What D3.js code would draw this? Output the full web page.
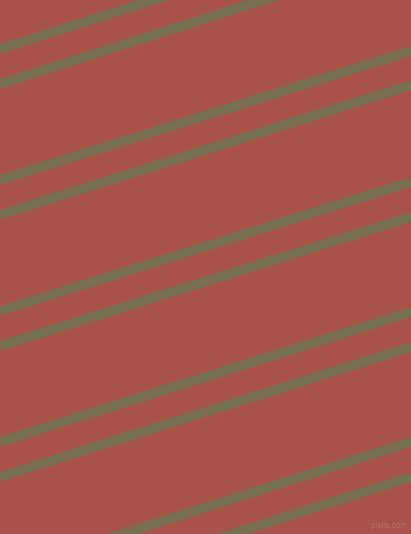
<!DOCTYPE html>
<html>
<head>
<meta charset="utf-8">
<script src="https://cdn.jsdelivr.net/npm/d3@7"></script>
<style>
  html, body { margin: 0; padding: 0; background: #a8524a; }
  svg { display: block; }
</style>
</head>
<body>
<svg width="411" height="534"></svg>
<script>
// y where each stripe's centre meets the left and right edge
const leftY = [49, 84, 180, 215, 311, 346, 442, 477, 573, 608];
const rightY = [-82, -47, 51, 85, 182, 217, 312, 347, 442, 477];
const edges = ['left', 'right'];

const svg = d3.select('svg');
const width = +svg.attr('width');
const height = +svg.attr('height');

const x = d3.scalePoint()
    .domain(edges)
    .range([0, width]);
const y = d3.scaleLinear()
    .domain([0, height])
    .range([0, height]);

svg.append('rect')
    .attr('width', width)
    .attr('height', height)
    .attr('fill', '#a8524a');

const line = d3.line()
    .x(d => x(d.edge))
    .y(d => y(d.y));

const stripes = leftY.map((v, i) => [
    { edge: 'left', y: v },
    { edge: 'right', y: rightY[i] }
]);

svg.append('g')
    .selectAll('path')
    .data(stripes)
    .join('path')
    .attr('d', line)
    .attr('fill', 'none')
    .attr('stroke', '#787052')
    .attr('stroke-width', 9.5);

svg.append('text')
    .attr('x', width - 4)
    .attr('y', height - 6)
    .attr('text-anchor', 'end')
    .attr('font-family', 'DejaVu Sans Condensed, DejaVu Sans, sans-serif')
    .attr('font-size', 9)
    .attr('textLength', 36)
    .attr('lengthAdjust', 'spacingAndGlyphs')
    .attr('fill', '#ffffff')
    .attr('fill-opacity', 0.2)
    .text('pixlis.com');
</script>
</body>
</html>
